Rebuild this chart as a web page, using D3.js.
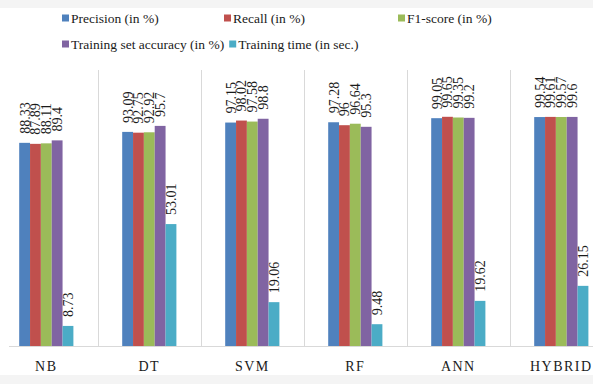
<!DOCTYPE html>
<html>
<head>
<meta charset="utf-8">
<script src="https://cdn.jsdelivr.net/npm/d3@7/dist/d3.min.js"></script>
<style>
  html, body { margin: 0; padding: 0; background: #ffffff; }
  svg { display: block; }
  text { font-family: "Liberation Serif", "Times New Roman", serif; fill: #1a1a1a; }
</style>
</head>
<body>
<svg id="chart" width="593" height="384"></svg>
<script>
// Classifier comparison data
const categories = ["NB", "DT", "SVM", "RF", "ANN", "HYBRID"];
const seriesNames = [
  "Precision (in %)",
  "Recall (in %)",
  "F1-score (in %)",
  "Training set accuracy (in %)",
  "Training time (in sec.)"
];
const precision   = [88.33, 93.09, 97.15, 97.28, 99.05, 99.54];
const recall      = [87.89, 92.75, 98.02, 96, 99.65, 99.61];
const f1Score     = [88.11, 92.92, 97.58, 96.64, 99.35, 99.57];
const trainAcc    = [89.4, 95.7, 98.8, 95.3, 99.2, 99.6];
const trainTime   = [8.73, 53.01, 19.06, 9.48, 19.62, 26.15];
const yDomain     = [0, 120];

const seriesValues = [precision, recall, f1Score, trainAcc, trainTime];
const colors = ["#4F81BD", "#C0504D", "#9BBB59", "#8064A2", "#4BACC6"];

const svg = d3.select("#chart");
const W = 593, H = 384;

// light page bands above and below the plot
svg.append("rect").attr("x", 0).attr("y", 0).attr("width", W).attr("height", 8).attr("fill", "#f4f4f4");
svg.append("rect").attr("x", 0).attr("y", 375).attr("width", W).attr("height", H - 375).attr("fill", "#f4f4f4");

const plotTop = 70, plotBottom = 346;
const x0 = d3.scaleBand().domain(categories).range([-5.2, 612.8]).padding(0);
const bw = x0.bandwidth();
const groupW = 54.2;
const x1 = d3.scaleBand().domain(d3.range(seriesNames.length))
  .range([(bw - groupW) / 2, (bw + groupW) / 2]).padding(0);
const y = d3.scaleLinear().domain(yDomain).range([plotBottom, plotTop]);

// vertical separators between categories
const sepG = svg.append("g");
categories.slice(1).forEach(c => {
  const xs = Math.round(x0(c)) + 0.5;
  sepG.append("line")
    .attr("x1", xs).attr("x2", xs)
    .attr("y1", plotTop).attr("y2", plotBottom)
    .attr("stroke", "#d9d9d9").attr("stroke-width", 1);
});

// bars
const groups = svg.append("g").selectAll("g")
  .data(categories)
  .join("g")
  .attr("transform", c => `translate(${x0(c)},0)`);

groups.selectAll("rect")
  .data((c, ci) => seriesValues.map((vals, si) => ({ si, v: vals[ci] })))
  .join("rect")
  .attr("x", d => x1(d.si))
  .attr("width", x1.bandwidth())
  .attr("y", d => y(d.v))
  .attr("height", d => y(0) - y(d.v))
  .attr("fill", d => colors[d.si]);

// rotated value labels above each bar
groups.selectAll("text.val")
  .data((c, ci) => seriesValues.map((vals, si) => ({ si, v: vals[ci] })))
  .join("text")
  .attr("class", "val")
  .attr("transform", d => `translate(${x1(d.si) + x1.bandwidth() / 2},${y(d.v) - 9}) rotate(-90)`)
  .attr("dy", "0.35em")
  .attr("text-anchor", "start")
  .attr("font-size", 14)
  .text(d => String(d.v));

// x axis baseline and category labels
const xAxis = d3.axisBottom(x0).tickSize(0).tickPadding(0);
const axisG = svg.append("g").attr("transform", `translate(0,${plotBottom})`).call(xAxis);
axisG.select(".domain").remove();
axisG.selectAll("text")
  .attr("y", 25)
  .attr("dy", 0)
  .attr("font-size", 14)
  .attr("letter-spacing", "1.5px")
  .style("font-family", "'Liberation Serif', 'Times New Roman', serif")
  .attr("fill", "#1a1a1a");
svg.append("line")
  .attr("x1", 9).attr("x2", W)
  .attr("y1", plotBottom + 0.5).attr("y2", plotBottom + 0.5)
  .attr("stroke", "#d9d9d9").attr("stroke-width", 1);

// legend: first row on fixed columns, second row flows after its first entry
const legendPos = [
  { x: 62, y: 18 }, { x: 224, y: 18 }, { x: 398, y: 18 },
  { x: 62, y: 44 }, { x: null, y: 44 }
];
const legendG = svg.append("g");
const items = [];
seriesNames.forEach((name, i) => {
  const g = legendG.append("g");
  g.append("rect")
    .attr("x", 0).attr("y", -3.5).attr("width", 7).attr("height", 7)
    .attr("fill", colors[i]);
  const t = g.append("text")
    .attr("x", 9).attr("y", 5)
    .attr("font-size", 13.5)
    .text(name);
  items.push({ g, t });
});
items.forEach((it, i) => {
  let lx = legendPos[i].x;
  if (lx === null) {
    const prev = items[i - 1];
    lx = legendPos[i - 1].x + 9 + prev.t.node().getComputedTextLength() + 5;
  }
  it.g.attr("transform", `translate(${lx},${legendPos[i].y})`);
});
</script>
</body>
</html>
